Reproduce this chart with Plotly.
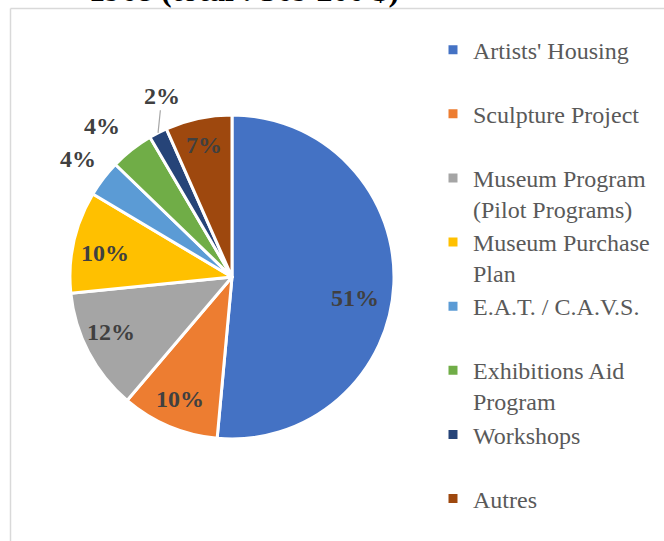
import math
import plotly.graph_objects as go

# Data (amounts in $, total 369 200 $)
categories = [
    "Artists' Housing",
    "Sculpture Project",
    "Museum Program<br>(Pilot Programs)",
    "Museum Purchase<br>Plan",
    "E.A.T. / C.A.V.S.",
    "Exhibitions Aid<br>Program",
    "Workshops",
    "Autres",
]
amounts = [190000, 36000, 45000, 37500, 13500, 16000, 6700, 24500]
title_text = "1968 (total : 369 200 $)"

# Styles
colors = ["#4472C4", "#ED7D31", "#A5A5A5", "#FFC000",
          "#5B9BD5", "#70AD47", "#264478", "#9E480E"]
label_radius = [0.77, 0.82, 0.82, 0.80, 1.20, 1.23, 1.20, 0.83]   # fraction of pie radius
label_angle_shift = [7, 0, 3, -2, 0, -2.5, 6, 0]                  # degrees
leader_line = [False, False, False, False, False, False, True, False]

W, H = 664, 541
cx, cy, r = 232, 277, 162   # pie centre / radius in pixels

# legend labels: every entry (except the last) two lines high so spacing is uniform
legend_labels = []
for k, c in enumerate(categories):
    lab = c if ("<br>" in c or k == len(categories) - 1) else c + "<br>&nbsp;"
    legend_labels.append("<br>".join(
        '<span style="font-size:24px">%s</span>' % p for p in lab.split("<br>")))

fig = go.Figure(go.Pie(
    labels=legend_labels,
    values=amounts,
    sort=False,
    direction="clockwise",
    rotation=0,
    marker=dict(colors=colors, line=dict(color="white", width=3)),
    textinfo="none",
    hoverinfo="label+value+percent",
    domain=dict(x=[(cx - r) / W, (cx + r) / W],
                y=[(H - cy - r) / H, (H - cy + r) / H]),
))

# percentage labels placed from the cumulative values
total = sum(amounts)
annotations = []
cum = 0.0
for i, v in enumerate(amounts):
    mid = (cum + v / 2) / total * 360.0
    cum += v
    pct = "%d%%" % round(v / total * 100)
    ang = math.radians(mid + label_angle_shift[i])
    lx = cx + label_radius[i] * r * math.sin(ang)
    ly = cy - label_radius[i] * r * math.cos(ang)
    font = dict(family="Liberation Serif", size=24, color="#404040", weight="bold")
    if leader_line[i]:
        am = math.radians(mid)
        px = cx + 1.0 * r * math.sin(am)
        py = cy - 1.0 * r * math.cos(am)
        annotations.append(dict(
            text=pct, xref="paper", yref="paper",
            x=px / W, y=1 - py / H, ax=lx - px, ay=ly - py,
            showarrow=True, arrowhead=0, arrowwidth=1.2, arrowcolor="#A6A6A6",
            standoff=0, startstandoff=0, font=font))
    else:
        annotations.append(dict(
            text=pct, xref="paper", yref="paper",
            x=lx / W, y=1 - ly / H, xanchor="center", yanchor="middle",
            showarrow=False, font=font))

annotations.append(dict(
    text="<b>%s</b>" % title_text,
    xref="paper", yref="paper",
    x=244 / W, y=1 - 10 / H, xanchor="center", yanchor="bottom",
    showarrow=False,
    font=dict(family="Liberation Serif", size=32, color="#000000"),
))

fig.update_layout(
    width=W, height=H,
    margin=dict(l=0, r=0, t=0, b=0),
    paper_bgcolor="white",
    plot_bgcolor="white",
    showlegend=True,
    legend=dict(
        x=433 / W, y=1 - 28 / H, xanchor="left", yanchor="top",
        font=dict(family="Liberation Serif", size=23.5, color="#595959"),
        itemwidth=30,
        valign="top",
        bgcolor="rgba(0,0,0,0)",
    ),
    annotations=annotations,
    shapes=[
        dict(type="line", xref="paper", yref="paper",
             x0=10.5 / W, x1=1, y0=1 - 8.5 / H, y1=1 - 8.5 / H,
             line=dict(color="#D9D9D9", width=1.5)),
        dict(type="line", xref="paper", yref="paper",
             x0=10.5 / W, x1=10.5 / W, y0=0, y1=1 - 8.5 / H,
             line=dict(color="#D9D9D9", width=1.5)),
    ],
)

fig.write_html("out.html", config={"displayModeBar": False},
               post_script="document.body.style.margin='0';")
